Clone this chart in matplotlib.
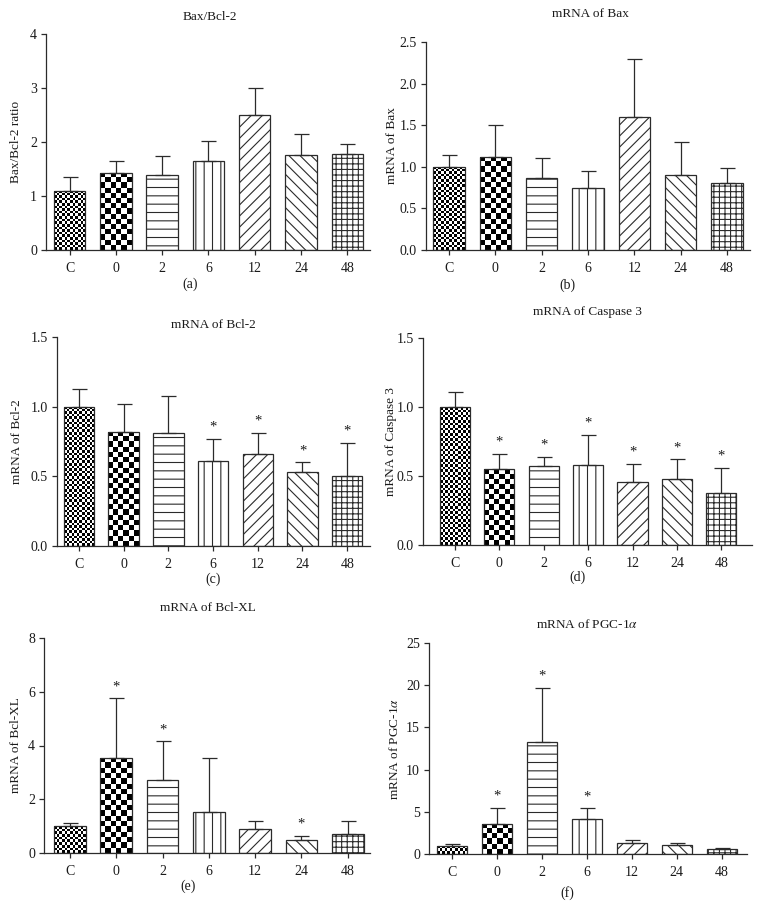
import numpy as np
import matplotlib
matplotlib.use("Agg")
import matplotlib.pyplot as plt

plt.rcParams['font.family'] = ['Liberation Serif', 'DejaVu Serif']
plt.rcParams['mathtext.fontset'] = 'stix'
plt.rcParams['hatch.linewidth'] = 0.8

# ---------------- data ----------------
categories = ["C", "0", "2", "6", "12", "24", "48"]

titles = ["Bax/Bcl-2", "mRNA of Bax", "mRNA of Bcl-2", "mRNA of Caspase 3",
          "mRNA of Bcl-XL", r"mRNA of PGC-1$\alpha$"]
ylabels = ["Bax/Bcl-2 ratio", "mRNA of Bax", "mRNA of Bcl-2", "mRNA of Caspase 3",
           "mRNA of Bcl-XL", r"mRNA of PGC-1$\alpha$"]
panel_labels = ["(a)", "(b)", "(c)", "(d)", "(e)", "(f)"]

means_a = [1.10, 1.43, 1.39, 1.65, 2.50, 1.75, 1.77]
upper_a = [1.36, 1.65, 1.74, 2.02, 3.00, 2.15, 1.96]
means_b = [1.00, 1.12, 0.87, 0.74, 1.60, 0.90, 0.80]
upper_b = [1.14, 1.50, 1.11, 0.95, 2.30, 1.30, 0.98]
means_c = [1.00, 0.82, 0.81, 0.61, 0.66, 0.53, 0.50]
upper_c = [1.13, 1.02, 1.08, 0.77, 0.81, 0.60, 0.74]
means_d = [1.00, 0.55, 0.57, 0.58, 0.46, 0.48, 0.38]
upper_d = [1.11, 0.66, 0.64, 0.80, 0.59, 0.62, 0.56]
means_e = [1.00, 3.55, 2.70, 1.52, 0.90, 0.47, 0.72]
upper_e = [1.10, 5.75, 4.15, 3.53, 1.20, 0.63, 1.20]
means_f = [1.00, 3.60, 13.30, 4.10, 1.30, 1.05, 0.65]
upper_f = [1.20, 5.50, 19.70, 5.40, 1.65, 1.35, 0.75]

stars_a = [0, 0, 0, 0, 0, 0, 0]
stars_b = [0, 0, 0, 0, 0, 0, 0]
stars_c = [0, 0, 0, 1, 1, 1, 1]
stars_d = [0, 1, 1, 1, 1, 1, 1]
stars_e = [0, 1, 1, 0, 0, 1, 0]
stars_f = [0, 1, 1, 1, 0, 0, 0]

yticks_a = [0, 1, 2, 3, 4]
yticks_b = [0.0, 0.5, 1.0, 1.5, 2.0, 2.5]
yticks_c = [0.0, 0.5, 1.0, 1.5]
yticks_d = [0.0, 0.5, 1.0, 1.5]
yticks_e = [0, 2, 4, 6, 8]
yticks_f = [0, 5, 10, 15, 20, 25]
ytick_fmt = ["{:.0f}", "{:.1f}", "{:.1f}", "{:.1f}", "{:.0f}", "{:.0f}"]

# ---------------- layout (pixels) ----------------
W, H = 758, 919
# left, top, right, bottom of axes
rects = [(46, 34, 370, 250), (426, 42, 750, 250),
         (57, 337, 370, 546), (423, 338, 752, 545),
         (44, 638, 370, 853), (429, 643, 747, 854)]
xlims = [(-0.51, 6.49), (-0.50, 6.50), (-0.49, 6.51), (-0.72, 6.69),
         (-0.56, 6.48), (-0.51, 6.56)]
title_pos = [(210, 17), (590, 14), (213, 325), (587, 312), (208, 608), (587, 625)]
plabel_pos = [(190, 284), (567, 285), (213, 579), (577, 577), (188, 886), (567, 893)]
ylabel_x = [16, 392, 17, 391, 16, 394]

hatches = [None, None, '--', '||', '///', '\\\\\\', '+++']
checker_cell = {0: 2.6, 1: 5.2}

edge = '#2b2b2b'
txt = '#1a1a1a'

fig = plt.figure(figsize=(W / 100, H / 100), dpi=100)

all_means = [means_a, means_b, means_c, means_d, means_e, means_f]
all_upper = [upper_a, upper_b, upper_c, upper_d, upper_e, upper_f]
all_stars = [stars_a, stars_b, stars_c, stars_d, stars_e, stars_f]
all_yticks = [yticks_a, yticks_b, yticks_c, yticks_d, yticks_e, yticks_f]

for i in range(6):
    l, t, r, b = rects[i]
    ax = fig.add_axes([l / W, 1 - b / H, (r - l) / W, (b - t) / H])
    means = np.array(all_means[i])
    upper = np.array(all_upper[i])
    yt = all_yticks[i]
    x = np.arange(len(categories))
    ax.set_xlim(*xlims[i])
    ax.set_ylim(yt[0], yt[-1])

    bars = ax.bar(x, means, width=0.68, color='white', edgecolor=edge,
                  linewidth=0.9, zorder=2)
    for j, bar in enumerate(bars):
        if hatches[j]:
            bar.set_hatch(hatches[j])
        else:
            # checkerboard texture clipped to bar
            bar.set_facecolor('none')
            x0, y0 = bar.get_x(), bar.get_y()
            x1, y1 = x0 + bar.get_width(), y0 + bar.get_height()
            p0 = ax.transData.transform((x0, y0))
            p1 = ax.transData.transform((x1, y1))
            cell = checker_cell[j]
            nx = max(1, int(round(abs(p1[0] - p0[0]) / cell)))
            ny = max(1, int(round(abs(p1[1] - p0[1]) / cell)))
            grid = (np.indices((ny, nx)).sum(axis=0) % 2).astype(float)
            im = ax.imshow(grid, extent=(x0, x1, y0, y1), cmap='gray',
                           interpolation='nearest', aspect='auto', zorder=1.9,
                           vmin=0, vmax=1, origin='upper')
            im.set_clip_path(bar)
    ax.set_xlim(*xlims[i])
    ax.set_ylim(yt[0], yt[-1])

    ax.errorbar(x, means, yerr=[np.zeros_like(means), upper - means], fmt='none',
                ecolor=edge, elinewidth=0.9, capsize=5.4, capthick=0.9, zorder=3)

    span = yt[-1] - yt[0]
    for j, s in enumerate(all_stars[i]):
        if s:
            ax.text(x[j], upper[j] + span * 0.025, '*', ha='center', va='bottom',
                    fontsize=10.5, color=txt)

    ax.set_xticks(x)
    ax.set_xticklabels(categories)
    ax.set_yticks(yt)
    ax.set_yticklabels([ytick_fmt[i].format(v) for v in yt])
    for side in ['top', 'right']:
        ax.spines[side].set_visible(False)
    for side in ['left', 'bottom']:
        ax.spines[side].set_color(edge)
        ax.spines[side].set_linewidth(0.9)
    ax.tick_params(axis='both', direction='out', length=3.5, width=0.9,
                   color=edge, labelsize=10, labelcolor=txt, pad=3)
    ax.tick_params(axis='x', pad=5)

    fig.text(title_pos[i][0] / W, 1 - title_pos[i][1] / H, titles[i],
             ha='center', va='center', fontsize=9.5, color=txt)
    fig.text(plabel_pos[i][0] / W, 1 - plabel_pos[i][1] / H, panel_labels[i],
             ha='center', va='center', fontsize=10, color=txt)
    fig.text(ylabel_x[i] / W, 1 - ((t + b) / 2) / H, ylabels[i], rotation=90,
             ha='center', va='center', fontsize=9.5, color=txt)

fig.savefig('out.png', dpi=100)
